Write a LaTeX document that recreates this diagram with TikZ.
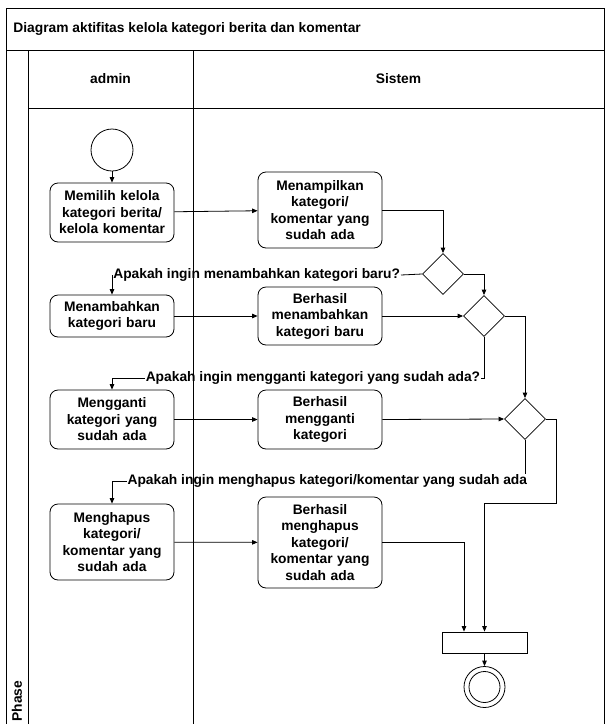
\documentclass[tikz,border=0pt]{standalone}
\usepackage{fontspec}
\setmainfont{Liberation Sans}
\usetikzlibrary{shapes.geometric,arrows.meta,positioning}

\begin{document}
\begin{tikzpicture}[x=1pt,y=-1pt,line width=0.8pt,
  font=\fontsize{13.8}{16.5}\selectfont\bfseries,
  act/.style={draw,rounded corners=8pt,align=center,minimum width=124pt,text width=120pt,inner sep=0pt},
  dec/.style={draw,diamond,aspect=1,minimum width=41pt,minimum height=41pt,inner sep=0pt},
  ask/.style={inner sep=0.5pt},
  arr/.style={-{Triangle[length=5.5pt,width=4.5pt]}}]
\useasboundingbox (0,0) rectangle (605,724);
% frame and lanes
\draw (6,724) -- (6,8) -- (604,8) -- (604,724);
\draw (6,50) -- (604,50);
\draw (28,50) -- (28,724);
\draw (193,50) -- (193,724);
\draw (28,108) -- (604,108);
\node[anchor=west,inner sep=0pt] (title) at (13,29) {Diagram aktifitas kelola kategori berita dan komentar};
\node (lane1) at (110.5,79) {admin};
\node (lane2) at (398.5,79) {Sistem};
\node[rotate=90,anchor=west,inner sep=0pt] (phase) at (17,722) {Phase};
% activities
\node[draw,circle,minimum size=42pt,inner sep=0pt] (start) at (112,150) {};
\node[act,minimum height=59pt] (pilih) at (112,212.5) {Memilih kelola\\kategori berita/\\kelola komentar};
\node[act,minimum height=76pt] (tampil) at (320,210) {Menampilkan\\kategori/\\komentar yang\\sudah ada};
\node[dec] (d1) at (443,274) {};
\node[act,minimum height=42pt] (tambah) at (112,316) {Menambahkan\\kategori baru};
\node[act,minimum height=58pt] (oktambah) at (320,316) {Berhasil\\menambahkan\\kategori baru};
\node[dec] (d2) at (484,316) {};
\node[act,minimum height=59pt] (ganti) at (112,419.5) {Mengganti\\kategori yang\\sudah ada};
\node[act,minimum height=59pt] (okganti) at (320,419.5) {Berhasil\\mengganti\\kategori};
\node[dec] (d3) at (525,419) {};
\node[act,minimum height=76pt] (hapus) at (112,542) {Menghapus\\kategori/\\komentar yang\\sudah ada};
\node[act,minimum height=91pt] (okhapus) at (320,542.5) {Berhasil\\menghapus\\kategori/\\komentar yang\\sudah ada};
\node[draw,minimum width=85pt,minimum height=21pt,inner sep=0pt] (join) at (484.5,642.5) {};
\node[draw,circle,minimum size=41pt,inner sep=0pt] (end) at (484.5,687) {};
\node[draw,circle,minimum size=31pt,inner sep=0pt] (endin) at (end) {};
% questions
\node[ask,anchor=east] (q1) at (401,275) {Apakah ingin menambahkan kategori baru?};
\node[ask,anchor=east] (q2) at (481,378) {Apakah ingin mengganti kategori yang sudah ada?};
\node[ask,anchor=east] (q3) at (528,481) {Apakah ingin menghapus kategori/komentar yang sudah ada};
\coordinate (bend) at (556,503);
% flows
\draw[arr] (start) -- (pilih);
\draw[arr] (pilih) -- (tampil);
\draw[arr] (tampil.east) -| (d1.north);
\draw (d1.west) -- (q1.east);
\draw[arr] (q1.west) -| (tambah.north);
\draw[arr] (d1.east) -| (d2.north);
\draw[arr] (tambah) -- (oktambah);
\draw[arr] (oktambah.east) -- (d2.west);
\draw (d2.south) |- (q2.east);
\draw[arr] (q2.west) -| (ganti.north);
\draw[arr] (d2.east) -| (d3.north);
\draw[arr] (ganti) -- (okganti);
\draw[arr] (okganti.east) -- (d3.west);
\draw (d3.south) -- (d3.south |- q3.north);
\draw[arr] (q3.west) -| (hapus.north);
\draw[arr] (hapus) -- (okhapus);
\draw[arr] (okhapus.east) -| ([xshift=-20.5pt]join.north);
\draw[arr] (d3.east) -| (bend) -| (join.north);
\draw[arr] (join) -- (end);
\end{tikzpicture}
\end{document}
